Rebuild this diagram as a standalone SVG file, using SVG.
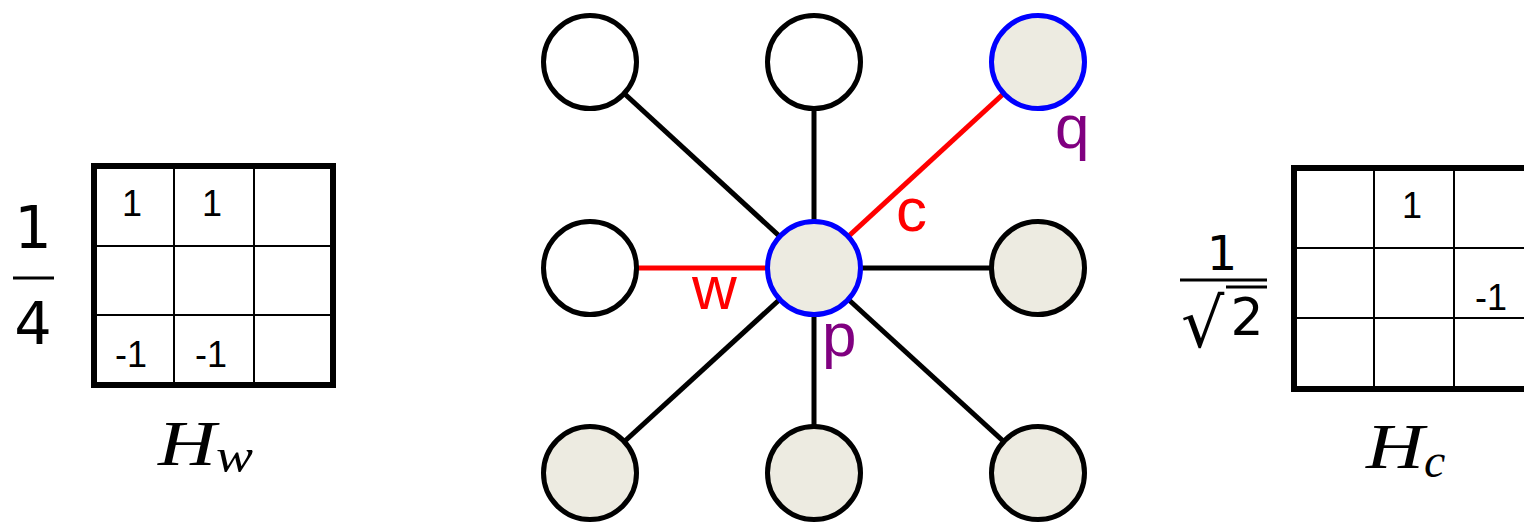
<svg xmlns="http://www.w3.org/2000/svg" width="1524" height="527" viewBox="0 0 1524 527">
  <style>
    .edge { stroke: #000; stroke-width: 5; fill: none; }
    .edge-hl { stroke: #ff0000; stroke-width: 5; fill: none; }
    .node { stroke: #000; stroke-width: 5; }
    .empty { fill: #ffffff; }
    .filled { fill: #edebe1; }
    .sel { stroke: #0000ff; }
    .lbl { font-size: 62px; }
    .red { fill: #ff0000; }
    .purple { fill: #800080; }
    .grid-outer { fill: #fff; stroke: #000; stroke-width: 6; }
    .grid-inner { stroke: #000; stroke-width: 2; }
    .cell { font-size: 36px; text-anchor: middle; }
    .frac { text-anchor: middle; }
    .math { font-style: italic; }
  </style>

  <!-- left kernel: 1/4 with 3x3 grid -->
  <g id="kernel-w">
    <text class="frac" font-family="DejaVu Sans, sans-serif" x="33" y="248" font-size="59">1</text>
    <line x1="13" y1="278" x2="54" y2="278" stroke="#000" stroke-width="3"/>
    <text class="frac" font-family="DejaVu Sans, sans-serif" x="33" y="344" font-size="59">4</text>
    <rect class="grid-outer" x="94" y="166" width="239" height="219"/>
    <line class="grid-inner" x1="174" y1="166" x2="174" y2="385"/>
    <line class="grid-inner" x1="254" y1="166" x2="254" y2="385"/>
    <line class="grid-inner" x1="94" y1="246" x2="333" y2="246"/>
    <line class="grid-inner" x1="94" y1="315" x2="333" y2="315"/>
    <g font-family="'Liberation Sans', Arial, sans-serif">
      <text class="cell" x="132" y="216">1</text>
      <text class="cell" x="212" y="216">1</text>
      <text class="cell" x="131" y="367">-1</text>
      <text class="cell" x="211" y="367">-1</text>
    </g>
    <g font-family="'Liberation Serif', 'Times New Roman', serif">
      <text class="math" x="158" y="465" font-size="64" textLength="58" lengthAdjust="spacingAndGlyphs">H</text>
      <text class="math" x="216" y="472" font-size="48" textLength="37" lengthAdjust="spacingAndGlyphs">w</text>
    </g>
  </g>

  <!-- right kernel: 1/sqrt(2) with 3x3 grid -->
  <g id="kernel-c">
    <g font-family="DejaVu Sans, sans-serif">
      <text class="frac" x="1222" y="270" font-size="48">1</text>
      <text x="1181" y="347" font-size="68">√</text>
      <text class="frac" x="1247" y="335" font-size="52">2</text>
    </g>
    <line x1="1180" y1="280" x2="1267" y2="280" stroke="#000" stroke-width="3"/>
    <line x1="1226" y1="287" x2="1267" y2="287" stroke="#000" stroke-width="3"/>
    <rect class="grid-outer" x="1294" y="168" width="320" height="221"/>
    <line class="grid-inner" x1="1374" y1="168" x2="1374" y2="389"/>
    <line class="grid-inner" x1="1454" y1="168" x2="1454" y2="389"/>
    <line class="grid-inner" x1="1294" y1="248" x2="1524" y2="248"/>
    <line class="grid-inner" x1="1294" y1="318" x2="1524" y2="318"/>
    <g font-family="'Liberation Sans', Arial, sans-serif">
      <text class="cell" x="1412" y="218">1</text>
      <text class="cell" x="1491" y="310">-1</text>
    </g>
    <g font-family="'Liberation Serif', 'Times New Roman', serif">
      <text class="math" x="1366" y="468" font-size="64" textLength="58" lengthAdjust="spacingAndGlyphs">H</text>
      <text class="math" x="1424" y="477" font-size="48">c</text>
    </g>
  </g>

  <!-- connectors from the centre pixel p to its 8 neighbours -->
  <g id="connectors">
    <line class="edge" x1="814" y1="268" x2="590" y2="62"/>
    <line class="edge" x1="814" y1="268" x2="814" y2="62"/>
    <line class="edge" x1="814" y1="268" x2="1038" y2="268"/>
    <line class="edge" x1="814" y1="268" x2="590" y2="473"/>
    <line class="edge" x1="814" y1="268" x2="814" y2="473"/>
    <line class="edge" x1="814" y1="268" x2="1038" y2="473"/>
    <line class="edge-hl" x1="814" y1="268" x2="590" y2="268"/>
    <line class="edge-hl" x1="814" y1="268" x2="1038" y2="62"/>
  </g>

  <!-- neighbour nodes -->
  <g id="n-tl"><circle class="node empty" cx="590" cy="62" r="46.5"/></g>
  <g id="n-t"><circle class="node empty" cx="814" cy="62" r="46.5"/></g>
  <g id="n-q"><circle class="node filled sel" cx="1038" cy="62" r="46.5"/></g>
  <g id="n-l"><circle class="node empty" cx="590" cy="268" r="46.5"/></g>
  <g id="n-p"><circle class="node filled sel" cx="814" cy="268" r="46.5"/></g>
  <g id="n-r"><circle class="node filled" cx="1038" cy="268" r="46.5"/></g>
  <g id="n-bl"><circle class="node filled" cx="590" cy="473" r="46.5"/></g>
  <g id="n-b"><circle class="node filled" cx="814" cy="473" r="46.5"/></g>
  <g id="n-br"><circle class="node filled" cx="1038" cy="473" r="46.5"/></g>

  <!-- labels -->
  <g id="labels" font-family="'Liberation Sans', Arial, sans-serif">
    <text class="lbl red" x="692" y="309">w</text>
    <text class="lbl red" x="896" y="231">c</text>
    <text class="lbl purple" x="822" y="356">p</text>
    <text class="lbl purple" x="1055" y="148">q</text>
  </g>
</svg>
